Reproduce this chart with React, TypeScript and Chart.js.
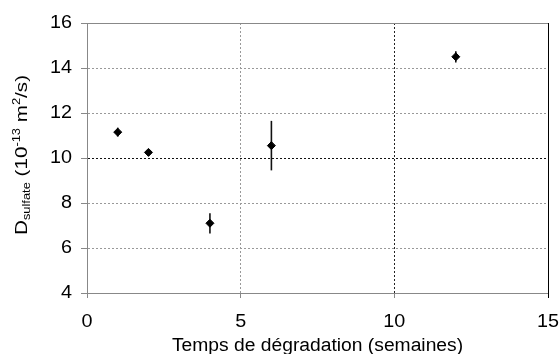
import React, { useEffect, useRef } from "react";
import { Chart, registerables } from "chart.js";

Chart.register(...registerables);

// ---- data ----
const weeks = [1, 2, 4, 6, 12];
const dSulfate = [11.15, 10.25, 7.1, 10.55, 14.5];
const dError = [0.2, 0.1, 0.45, 1.1, 0.25];
const xMin = 0;
const xMax = 15;
const xStep = 5;
const yMin = 4;
const yMax = 16;
const yStep = 2;
const xTitle = "Temps de dégradation (semaines)";
const yTitleParts = [
  { t: "D", small: false, shift: 0 },
  { t: "sulfate", small: true, shift: 3 },
  { t: " (10", small: false, shift: 0 },
  { t: "-13", small: true, shift: -7 },
  { t: " m", small: false, shift: 0 },
  { t: "2", small: true, shift: -7 },
  { t: "/s)", small: false, shift: 0 },
];

const FONT = '"Liberation Sans", Arial, sans-serif';
const TEXT_SX = 1.1;

const chartPlugin = {
  id: "customDraw",
  beforeDraw(chart: any) {
    const ctx = chart.ctx;
    const orig = CanvasRenderingContext2D.prototype.fillText;
    (ctx as any).fillText = function (t: string, x: number, y: number, mw?: number) {
      this.save();
      this.translate(x, y);
      this.scale(TEXT_SX, 1);
      if (mw !== undefined) orig.call(this, t, 0, 0, mw);
      else orig.call(this, t, 0, 0);
      this.restore();
    };
  },
  beforeDatasetsDraw(chart: any) {
    const ctx = chart.ctx;
    const xs = chart.scales.x;
    const ys = chart.scales.y;
    ctx.save();
    ctx.strokeStyle = "#111";
    ctx.lineWidth = 1.6;
    weeks.forEach((w, i) => {
      const px = xs.getPixelForValue(w);
      const y1 = ys.getPixelForValue(dSulfate[i] - dError[i]);
      const y2 = ys.getPixelForValue(dSulfate[i] + dError[i]);
      ctx.beginPath();
      ctx.moveTo(px, y1);
      ctx.lineTo(px, y2);
      ctx.stroke();
    });
    ctx.restore();
  },
  afterDraw(chart: any) {
    const ctx = chart.ctx;
    delete (ctx as any).fillText;
    const { left, right, top, bottom } = chart.chartArea;
    ctx.save();
    // top frame line
    ctx.strokeStyle = "#888";
    ctx.lineWidth = 1;
    ctx.beginPath();
    ctx.moveTo(left, Math.round(top) + 0.5);
    ctx.lineTo(right, Math.round(top) + 0.5);
    ctx.stroke();
    // right frame line
    ctx.strokeStyle = "#000";
    ctx.beginPath();
    ctx.moveTo(Math.round(right) + 0.5, top);
    ctx.lineTo(Math.round(right) + 0.5, bottom + 5);
    ctx.stroke();

    // x title
    ctx.fillStyle = "#000";
    ctx.font = `18px ${FONT}`;
    ctx.textBaseline = "alphabetic";
    ctx.textAlign = "center";
    ctx.save();
    ctx.translate((left + right) / 2, 351);
    ctx.scale(1.07, 1);
    ctx.fillText(xTitle, 0, 0);
    ctx.restore();

    // y title (rich text, rotated)
    const bigSize = 16;
    const smallSize = 10;
    ctx.textAlign = "left";
    let W = 0;
    const widths = yTitleParts.map((p) => {
      ctx.font = `${p.small ? smallSize : bigSize}px ${FONT}`;
      const w = ctx.measureText(p.t).width;
      W += w;
      return w;
    });
    const L = 160;
    const k = L / W;
    ctx.save();
    ctx.translate(27, 235);
    ctx.rotate(-Math.PI / 2);
    ctx.scale(k, 1);
    let cx = 0;
    yTitleParts.forEach((p, i) => {
      ctx.font = `${p.small ? smallSize : bigSize}px ${FONT}`;
      ctx.fillText(p.t, cx, p.shift);
      cx += widths[i];
    });
    ctx.restore();
    ctx.restore();
  },
};

export default function App() {
  const ref = useRef<HTMLCanvasElement | null>(null);
  useEffect(() => {
    if (!ref.current) return;
    const chart = new Chart(ref.current, {
      type: "scatter",
      data: {
        datasets: [
          {
            label: "D sulfate",
            data: weeks.map((w, i) => ({ x: w, y: dSulfate[i] })),
            pointStyle: "rectRot",
            pointRadius: 4,
            borderWidth: 1,
            backgroundColor: "#000",
            borderColor: "#000",
            showLine: false,
          },
        ],
      },
      options: {
        animation: false,
        responsive: false,
        layout: { padding: { top: 23, right: 12, left: 0, bottom: 0 } },
        plugins: {
          legend: { display: false },
          tooltip: { enabled: false },
        },
        scales: {
          x: {
            type: "linear",
            min: xMin,
            max: xMax,
            ticks: {
              stepSize: xStep,
              color: "#000",
              font: { family: FONT, size: 18 },
              padding: 13,
              maxRotation: 0,
            },
            grid: {
              color: (c: any) => {
                const v = c.tick ? c.tick.value : null;
                if (v === xMin || v === xMax) return "rgba(0,0,0,0)";
                if (v === 10) return "#222";
                return "#999";
              },
              tickColor: "#888",
              tickLength: 5,
            },
            border: { color: "#888", width: 1, dash: [2, 2] },
            afterFit: (s: any) => {
              s.height = 61;
              s.paddingLeft = 0;
              s.paddingRight = 0;
            },
          },
          y: {
            type: "linear",
            min: yMin,
            max: yMax,
            ticks: {
              stepSize: yStep,
              color: "#000",
              font: { family: FONT, size: 18 },
              padding: 9,
            },
            grid: {
              color: (c: any) => {
                const v = c.tick ? c.tick.value : null;
                if (v === yMin || v === yMax) return "rgba(0,0,0,0)";
                if (v === 10) return "#111";
                return "#999";
              },
              tickColor: "#888",
              tickLength: 6,
            },
            border: { color: "#888", width: 1, dash: [2, 2] },
            afterFit: (s: any) => {
              s.width = 87;
              s.paddingTop = 0;
              s.paddingBottom = 0;
            },
          },
        },
      },
      plugins: [chartPlugin],
    } as any);
    return () => chart.destroy();
  }, []);
  return (
    <div style={{ position: "absolute", left: 0, top: 0, width: 560, height: 354 }}>
      <canvas ref={ref} width={560} height={354} style={{ display: "block" }} />
    </div>
  );
}
